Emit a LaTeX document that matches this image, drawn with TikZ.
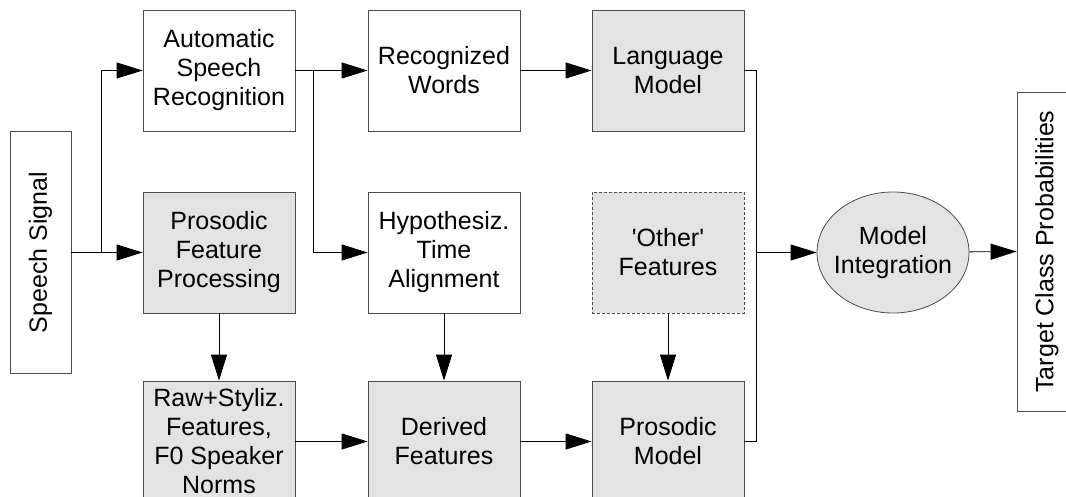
\documentclass[tikz,border=0pt]{standalone}
\usepackage{fontspec}
\setmainfont{Liberation Sans}
\usetikzlibrary{arrows.meta,shapes.geometric,positioning}

\begin{document}
\begin{tikzpicture}[x=1pt,y=-1pt,
    box/.style={draw=black!70,line width=0.8pt,minimum width=152pt,minimum height=121pt,
      inner sep=0pt,align=center,font=\fontsize{25}{29}\selectfont},
    plainbox/.style={box,fill=white},
    greybox/.style={box,fill=black!11},
    conn/.style={line width=0.8pt,-{Triangle[length=26pt,width=16pt]}},
    wire/.style={line width=0.8pt}]
  \useasboundingbox (0,0) rectangle (1066,497);
  % first column
  \node[plainbox,rotate=90,minimum width=242pt,minimum height=61pt](sig)at(40.5,252.5){Speech Signal};
  \node[plainbox](asr)at(219,70.5){Automatic\\Speech\\Recognition};
  \node[greybox](pfp)at(219,252.5){Prosodic\\Feature\\Processing};
  \node[greybox](raw)at(219,441.5){Raw+Styliz.\\Features,\\F0 Speaker\\Norms};
  % second column
  \node[plainbox](words)at(444,70.5){Recognized\\Words};
  \node[plainbox](align)at(444,252.5){Hypothesiz.\\Time\\Alignment};
  \node[greybox](derived)at(444,441.5){Derived\\Features};
  % third column
  \node[greybox](lm)at(668,70.5){Language\\Model};
  \node[greybox,dash pattern=on 3pt off 2pt](other)at(668,252.5){\textquotesingle Other\textquotesingle\\Features};
  \node[greybox](pm)at(668,441.5){Prosodic\\Model};
  % output
  \node[greybox,ellipse,inner xsep=-10pt](mi)at(893,252.5){Model\\Integration};
  \node[plainbox,rotate=90,minimum width=319pt,minimum height=60pt](tcp)at(1047,251.5){Target Class Probabilities};

  \coordinate(split)at(101,252.5);
  \coordinate(asrsplit)at(313,70.5);
  \coordinate(top)at(756,70.5);
  \coordinate(mid)at(756,252.5);
  \coordinate(bot)at(756,441.5);

  \draw[wire](sig.south)--(split);
  \draw[conn](split)--(pfp.west);
  \draw[conn](split)|-(asr.west);
  \draw[conn](asr)--(words);
  \draw[conn](asrsplit)|-(align.west);
  \draw[conn](words)--(lm);
  \draw[conn](pfp)--(raw);
  \draw[conn](align)--(derived);
  \draw[conn](other)--(pm);
  \draw[conn](raw)--(derived);
  \draw[conn](derived)--(pm);
  \draw[wire](lm.east)--(top)--(bot)--(pm.east);
  \draw[conn](mid)--(mi);
  \draw[conn](mi)--(tcp.north);
\end{tikzpicture}
\end{document}
